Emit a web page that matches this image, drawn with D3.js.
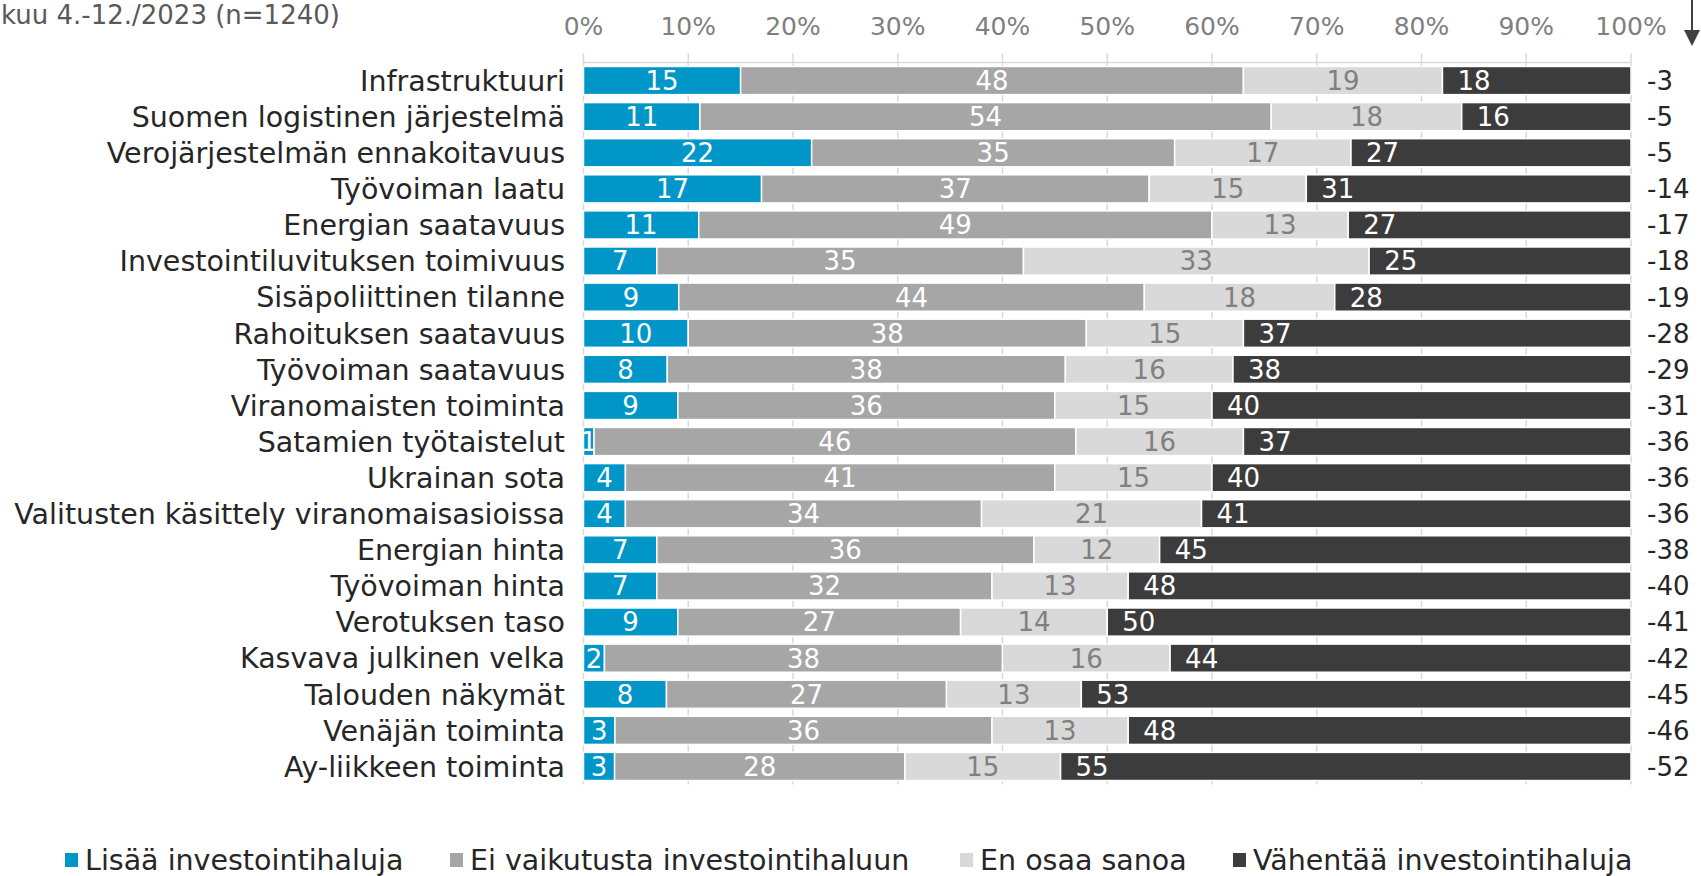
<!DOCTYPE html>
<html>
<head>
<meta charset="utf-8">
<script src="https://cdn.jsdelivr.net/npm/d3@7"></script>
<style>
  body { margin: 0; background: #fff; overflow: hidden; }
  svg { display: block; font-family: "DejaVu Sans", Verdana, sans-serif; }
</style>
</head>
<body>
<div id="vis"></div>
<script>
// Categories (top to bottom)
const categories = [
  "Infrastruktuuri",
  "Suomen logistinen järjestelmä",
  "Verojärjestelmän ennakoitavuus",
  "Työvoiman laatu",
  "Energian saatavuus",
  "Investointiluvituksen toimivuus",
  "Sisäpoliittinen tilanne",
  "Rahoituksen saatavuus",
  "Työvoiman saatavuus",
  "Viranomaisten toiminta",
  "Satamien työtaistelut",
  "Ukrainan sota",
  "Valitusten käsittely viranomaisasioissa",
  "Energian hinta",
  "Työvoiman hinta",
  "Verotuksen taso",
  "Kasvava julkinen velka",
  "Talouden näkymät",
  "Venäjän toiminta",
  "Ay-liikkeen toiminta"
];

const seriesNames = ["Lisää investointihaluja", "Ei vaikutusta investointihaluun", "En osaa sanoa", "Vähentää investointihaluja"];

const lisaa     = [15, 11, 22, 17, 11, 7, 9, 10, 8, 9, 1, 4, 4, 7, 7, 9, 2, 8, 3, 3];
const eiVaik    = [48, 54, 35, 37, 49, 35, 44, 38, 38, 36, 46, 41, 34, 36, 32, 27, 38, 27, 36, 28];
const enOsaa    = [19, 18, 17, 15, 13, 33, 18, 15, 16, 15, 16, 15, 21, 12, 13, 14, 16, 13, 13, 15];
const vahentaa  = [18, 16, 27, 31, 27, 25, 28, 37, 38, 40, 37, 40, 41, 45, 48, 50, 44, 53, 48, 55];
const saldo     = [-3, -5, -5, -14, -17, -18, -19, -28, -29, -31, -36, -36, -36, -38, -40, -41, -42, -45, -46, -52];

const tickValues = [0, 0.1, 0.2, 0.3, 0.4, 0.5, 0.6, 0.7, 0.8, 0.9, 1];
const subtitle = "kuu 4.-12./2023 (n=1240)";

const colors = ["#0096c8", "#a6a6a6", "#d9d9d9", "#3c3c3c"];
const labelColors = ["#ffffff", "#ffffff", "#808080", "#ffffff"];

const width = 1701, height = 876;
const margin = { top: 62.5, right: 70, bottom: 91.5, left: 583.5 };

const rows = categories.map((c, i) => ({
  cat: c, s0: lisaa[i], s1: eiVaik[i], s2: enOsaa[i], s3: vahentaa[i], saldo: saldo[i]
}));

const keys = ["s0", "s1", "s2", "s3"];
const stacked = d3.stack().keys(keys).offset(d3.stackOffsetExpand)(rows);

const svg = d3.select("#vis").append("svg")
  .attr("width", width)
  .attr("height", height);

const x = d3.scaleLinear().domain([0, 1]).range([margin.left, 1631]);
const y = d3.scaleBand().domain(categories)
  .range([margin.top, height - margin.bottom])
  .paddingInner(0.22).paddingOuter(0.11);

// Gridlines
svg.append("g")
  .selectAll("line")
  .data(tickValues)
  .join("line")
  .attr("x1", d => x(d)).attr("x2", d => x(d))
  .attr("y1", margin.top - 9).attr("y2", height - margin.bottom)
  .attr("stroke", "#d9d9d9").attr("stroke-width", 1.5);

svg.append("line")
  .attr("x1", x(0)).attr("x2", x(1))
  .attr("y1", margin.top).attr("y2", margin.top)
  .attr("stroke", "#d9d9d9").attr("stroke-width", 1.5);

// Top axis labels
svg.append("g")
  .selectAll("text")
  .data(tickValues)
  .join("text")
  .attr("x", d => x(d))
  .attr("y", 35)
  .attr("text-anchor", "middle")
  .attr("fill", "#7f7f7f")
  .attr("font-size", "25px")
  .text(d => d3.format(".0%")(d));

// Bars
const layer = svg.append("g").selectAll("g")
  .data(stacked)
  .join("g")
  .attr("fill", (d, i) => colors[i]);

layer.selectAll("rect")
  .data(d => d.map(v => ({ v, key: d.key })))
  .join("rect")
  .attr("x", d => x(d.v[0]))
  .attr("y", d => y(d.v.data.cat))
  .attr("width", d => x(d.v[1]) - x(d.v[0]))
  .attr("height", y.bandwidth())
  .attr("stroke", "#ffffff")
  .attr("stroke-width", 1.5);

// Segment labels
stacked.forEach((s, si) => {
  svg.append("g").selectAll("text")
    .data(s)
    .join("text")
    .attr("x", d => si === 3 ? x(d[0]) + 15 : (x(d[0]) + x(d[1])) / 2)
    .attr("y", d => y(d.data.cat) + y.bandwidth() / 2)
    .attr("dy", "0.36em")
    .attr("text-anchor", si === 3 ? "start" : "middle")
    .attr("fill", labelColors[si])
    .attr("font-size", "26px")
    .text(d => d.data[s.key]);
});

// Category labels
svg.append("g").selectAll("text")
  .data(categories)
  .join("text")
  .attr("x", 565)
  .attr("y", d => y(d) + y.bandwidth() / 2)
  .attr("dy", "0.36em")
  .attr("text-anchor", "end")
  .attr("fill", "#262626")
  .attr("font-size", "28.5px")
  .text(d => d);

// Net values on the right
svg.append("g").selectAll("text")
  .data(rows)
  .join("text")
  .attr("x", 1647)
  .attr("y", d => y(d.cat) + y.bandwidth() / 2)
  .attr("dy", "0.36em")
  .attr("fill", "#262626")
  .attr("font-size", "26px")
  .text(d => d.saldo);

// Arrow at top right
svg.append("line")
  .attr("x1", 1692).attr("x2", 1692)
  .attr("y1", 0).attr("y2", 34)
  .attr("stroke", "#404040").attr("stroke-width", 2);
svg.append("path")
  .attr("d", "M1684,30 L1700,30 L1692,46 Z")
  .attr("fill", "#404040");

// Subtitle (start of the line is off the picture in the source)
svg.append("text")
  .attr("x", 1)
  .attr("y", 24)
  .attr("fill", "#595959")
  .attr("font-size", "26px")
  .text(subtitle);

// Legend
const legendX = [65, 450, 960, 1233];
const legend = svg.append("g").selectAll("g")
  .data(seriesNames)
  .join("g")
  .attr("transform", (d, i) => `translate(${legendX[i]},860)`);

legend.append("rect")
  .attr("x", 0).attr("y", -7)
  .attr("width", 13).attr("height", 14)
  .attr("fill", (d, i) => colors[i]);

legend.append("text")
  .attr("x", 20)
  .attr("y", 0)
  .attr("dy", "0.36em")
  .attr("fill", "#262626")
  .attr("font-size", "28.5px")
  .text(d => d);
</script>
</body>
</html>
